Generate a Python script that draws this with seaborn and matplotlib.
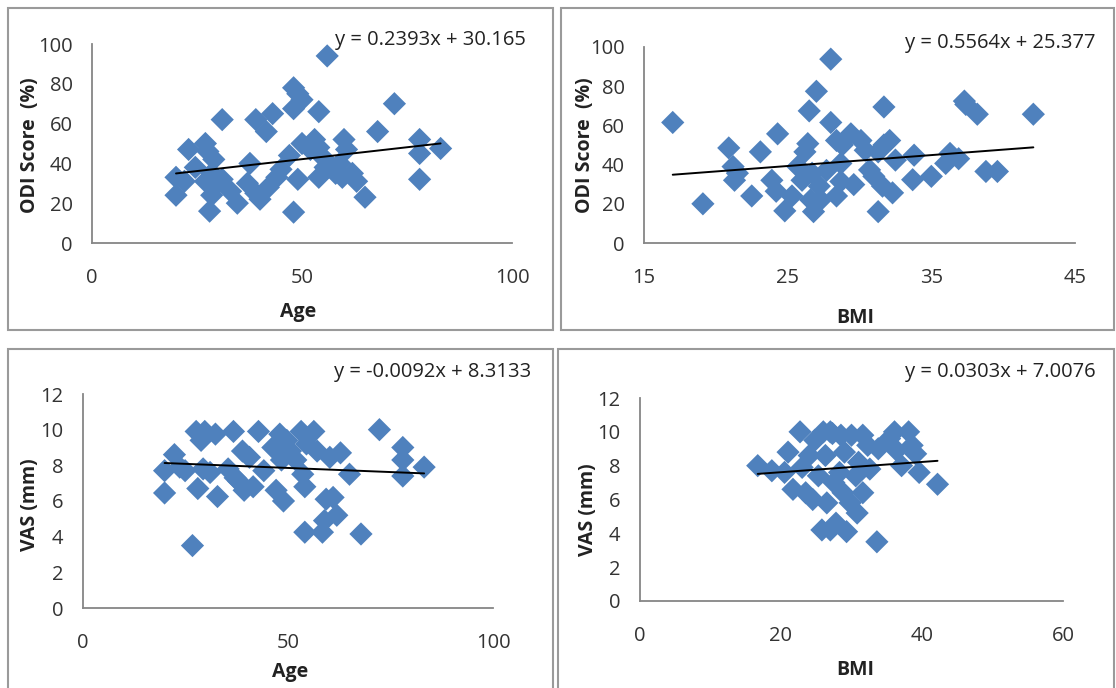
import matplotlib
matplotlib.use("Agg")
import matplotlib.pyplot as plt
import seaborn as sns
import pandas as pd
import numpy as np
from matplotlib.patches import Rectangle

# ---------------- data ----------------
age_odi_x = [20, 20, 22, 23, 24.6, 27, 27.6, 29, 28.5, 27, 29, 28.5, 28, 31, 31, 33, 34.6, 37, 37.6,
             39, 39, 40, 41.5, 42, 43, 44, 45, 47, 48, 48, 48, 49, 49, 50, 50, 52, 53, 54, 54, 54,
             55, 55.5, 56, 57, 58, 59, 60, 60.6, 62, 63, 65, 68, 72, 78, 78, 78, 83, 59.6]
age_odi_y = [24, 33, 31, 47, 38, 50, 46, 42, 35, 31, 28, 24, 16, 62, 32, 26, 20, 30, 40,
             62, 25, 22, 56, 28, 65, 33, 37, 44, 78, 67.5, 15.5, 32, 75, 72, 50, 47, 52, 48, 66, 33,
             43, 38, 94, 38, 35, 40, 52, 47, 35, 31, 23, 56, 70, 52, 45, 32, 47.5, 33]

bmi_odi_x = [17, 19.1, 20.9, 21.2, 21.3, 21.5, 22.5, 23.1, 23.9, 24.3, 24.2, 24.8, 25.3, 25.7, 26,
             26.2, 26.4, 26.5, 26.6, 26.8, 27, 26.7, 27.2, 27.3, 27.7, 28, 28, 28.4, 28.4, 28.7,
             28.8, 29.4, 28.7, 29.6, 30.1, 30.4, 30.7, 31, 31.3, 31.3, 31.6, 31.7, 31.7, 32.1, 32.3,
             32.5, 33.7, 33.8, 35, 36, 36.3, 36.9, 37.3, 37.4, 38.2, 38.8, 39.6, 42.1]
bmi_odi_y = [61.5, 20, 48.5, 39, 32, 35.6, 24, 46.5, 32, 55.7, 26.4, 16.4, 24, 39, 32,
             46.5, 50.7, 67.4, 22, 16, 77.4, 35.6, 29, 22, 37, 93.8, 61.5, 52.3, 24, 40.6,
             50, 55.7, 31.4, 29.8, 52.3, 47.3, 37.3, 34, 46.5, 16, 29, 69.4, 50, 52.3, 25.6,
             42.3, 32.3, 44.8, 34, 40.6, 45.7, 43, 72.4, 70.7, 65.7, 36.5, 36.5, 65.7]

age_vas_x = [19.9, 19.9, 22.3, 23.6, 24.9, 26.7, 27.6, 28, 28.8, 29.7, 29.3, 31, 32.3, 32.8, 35.4,
             36.7, 37.1, 38, 38.9, 39.3, 40.6, 41.5, 42.8, 44.1, 46.3, 47.1, 48, 48.4, 48.9, 49.7,
             50.6, 51.9, 53.2, 53.6, 54.1, 54.1, 54.5, 56.3, 57.1, 58.4, 58.9, 59.3, 60.2, 61, 61.9,
             62.8, 65, 67.8, 72.3, 78, 78, 78, 83.2]
age_vas_y = [6.45, 7.7, 8.6, 7.9, 7.7, 3.5, 9.9, 6.7, 9.4, 9.9, 7.8, 7.6, 9.75, 6.25, 7.8,
             9.9, 7.3, 7.1, 8.8, 6.6, 8.45, 6.8, 9.9, 7.7, 9.0, 6.6, 9.75, 8.3, 6.0, 9.4,
             8.8, 8.3, 9.9, 7.5, 6.8, 4.25, 9.2, 9.9, 8.8, 4.25, 4.9, 6.1, 8.45, 6.2, 5.2,
             8.7, 7.5, 4.15, 10, 9.0, 8.3, 7.4, 7.9]

bmi_vas_x = [16.7, 18.7, 20.5, 21, 22.7, 21.7, 23, 23.5, 24, 24.5, 25.3, 25.8, 26, 26.3, 26.5,
             27, 27.3, 27.5, 27.8, 28.3, 28.5, 28.8, 29, 29.3, 29.8, 30, 30.6, 30.8, 31, 31.6,
             31.6, 32.3, 32.6, 33.6, 33.8, 35.4, 36.1, 36.4, 37.1, 38.1, 38.6, 39.1, 39.6, 42.2,
             27.0, 24.8]
bmi_vas_y = [8.0, 7.7, 7.6, 8.8, 10.0, 6.6, 7.9, 6.4, 8.6, 6.0, 7.4, 4.2, 10, 8.6, 5.8,
             4.2, 9.9, 7.0, 4.6, 7.6, 9.8, 6.4, 8.8, 4.1, 5.8, 9.8, 7.4, 5.2, 8.2, 9.8,
             6.4, 9.2, 7.8, 3.5, 9.0, 9.6, 10, 8.9, 8.0, 10.0, 9.2, 8.7, 7.6, 6.9,
             10.0, 9.5]

slopes = [0.2393, 0.5564, -0.0092, 0.0303]
intercepts = [30.165, 25.377, 8.3133, 7.0076]
equations = ["y = 0.2393x + 30.165", "y = 0.5564x + 25.377",
             "y = -0.0092x + 8.3133", "y = 0.0303x + 7.0076"]
x_labels = ["Age", "BMI", "Age", "BMI"]
y_labels = ["ODI Score  (%)", "ODI Score  (%)", "VAS (mm)", "VAS (mm)"]
x_ticks = [[0, 50, 100], [15, 25, 35, 45], [0, 50, 100], [0, 20, 40, 60]]
y_ticks = [[0, 20, 40, 60, 80, 100], [0, 20, 40, 60, 80, 100],
           [0, 2, 4, 6, 8, 10, 12], [0, 2, 4, 6, 8, 10, 12]]

xs = [age_odi_x, bmi_odi_x, age_vas_x, bmi_vas_x]
ys = [age_odi_y, bmi_odi_y, age_vas_y, bmi_vas_y]

# ---------------- style ----------------
sns.set_theme(style="white")
plt.rcParams['font.family'] = ['Open Sans', 'DejaVu Sans']

W, H = 1116, 688
fig = plt.figure(figsize=(W / 100, H / 100), dpi=100)

def fx(px):
    return px / W

def fy(py):
    return 1 - py / H

# axes boxes in pixel coordinates: (x_left, x_right, y_top, y_bottom)
boxes = [(92, 512, 44, 243), (644, 1075, 47, 243), (83, 493, 394, 608), (640, 1063, 398, 601)]
borders = [(8, 8, 553, 330), (561, 8, 1114, 330), (8, 349, 553, 690), (558, 349, 1114, 690)]
eq_pos = [(430, 40), (1000, 43), (433, 372), (1000, 372)]
xl_pos = [(298, 312), (855, 318), (290, 672), (855, 670)]
yl_pos = [(30, 145), (585, 145), (30, 505), (588, 510)]

axis_gray = "#868686"
blue = "#4F81BD"

for i in range(4):
    rx0, ry0, rx1, ry1 = borders[i]
    fig.patches.append(Rectangle((fx(rx0), fy(ry1)), fx(rx1 - rx0), (ry1 - ry0) / H,
                                 transform=fig.transFigure, fill=False,
                                 edgecolor="#9a9a9a", linewidth=1.5, zorder=0))

    x0, x1, yt, yb = boxes[i]
    ax = fig.add_axes([fx(x0), fy(yb), fx(x1 - x0), (yb - yt) / H])
    df = pd.DataFrame({"x": xs[i], "y": ys[i]})
    sns.scatterplot(data=df, x="x", y="y", ax=ax, marker="D", s=140, color=blue,
                    edgecolor="none", linewidth=0, zorder=3, clip_on=False)
    xr = np.array([min(xs[i]), max(xs[i])])
    line_df = pd.DataFrame({"x": xr, "y": slopes[i] * xr + intercepts[i]})
    sns.lineplot(data=line_df, x="x", y="y", ax=ax, color="black", linewidth=1.4, zorder=4)

    ax.set_xlim(x_ticks[i][0], x_ticks[i][-1])
    ax.set_ylim(y_ticks[i][0], y_ticks[i][-1])
    ax.set_xticks(x_ticks[i])
    ax.set_yticks(y_ticks[i])
    ax.set_xlabel("")
    ax.set_ylabel("")
    for s in ["top", "right"]:
        ax.spines[s].set_visible(False)
    for s in ["left", "bottom"]:
        ax.spines[s].set_color(axis_gray)
        ax.spines[s].set_linewidth(1.3)
    ax.tick_params(axis="both", which="major", direction="out", length=7, width=1.3,
                   color=axis_gray, labelsize=14.5, labelcolor="#333333")
    ax.tick_params(axis="x", pad=11)
    ax.tick_params(axis="y", pad=7)
    ax.patch.set_alpha(0)

    fig.text(fx(eq_pos[i][0]), fy(eq_pos[i][1]), equations[i], ha="center", va="center",
             fontsize=14.5, color="#222222")
    fig.text(fx(xl_pos[i][0]), fy(xl_pos[i][1]), x_labels[i], ha="center", va="center",
             fontsize=14, fontweight="bold", color="#222222")
    fig.text(fx(yl_pos[i][0]), fy(yl_pos[i][1]), y_labels[i], ha="center", va="center",
             fontsize=14, fontweight="bold", color="#222222", rotation=90)

fig.savefig("out.png", dpi=100)
